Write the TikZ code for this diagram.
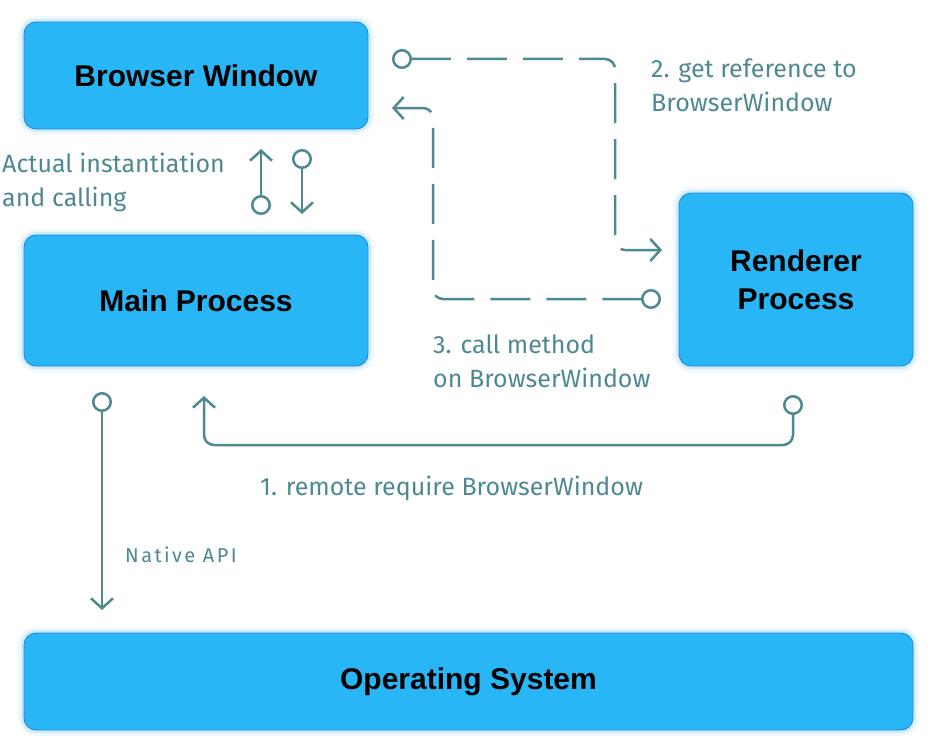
\documentclass[tikz,border=0pt]{standalone}
\usepackage{fontspec}
\setmainfont{Fira Sans}
\newfontfamily\boxfont{Liberation Sans}
\usetikzlibrary{arrows.meta}
\definecolor{boxblue}{RGB}{41,182,246}
\definecolor{boxedge}{RGB}{33,130,222}
\definecolor{boxglow}{RGB}{120,200,250}
\definecolor{linkteal}{RGB}{78,137,146}
\tikzset{
	proc/.style={draw=boxedge, fill=boxblue, line width=0.8pt, rounded corners=12pt,
		inner sep=0pt, align=center,
		font=\boxfont\bfseries\fontsize{30}{38}\selectfont,
		preaction={draw=boxglow, line width=12pt, opacity=0.12},
		preaction={draw=boxglow, line width=6pt, opacity=0.25}},
	link/.style={draw=linkteal, line width=2.5pt, rounded corners=10pt,
		{Circle[open,length=20pt,width=20pt]}-{Straight Barb[length=10pt,width=22pt]}},
	dashlink/.style={dash pattern=on 40pt off 16pt},
	note/.style={text=linkteal, inner sep=0pt, anchor=base west, align=left,
		font=\fontsize{25}{34}\selectfont}
}
\begin{document}
\begin{tikzpicture}[x=1pt, y=-1pt]
	\useasboundingbox (0,0) rectangle (935,752);
	% boxes
	\node[proc, minimum width=344pt, minimum height=107pt] (bw) at (196,75.5) {Browser Window};
	\node[proc, minimum width=344pt, minimum height=131pt] (mp) at (196,300.5) {Main Process};
	\node[proc, minimum width=234pt, minimum height=173pt] (rp) at (796,279.5) {Renderer\\Process};
	\node[proc, minimum width=889pt, minimum height=97pt] (os) at (468.5,681.5) {Operating System};
	% connector ends
	\coordinate (bwout) at (392,59);
	\coordinate (rpin) at (662,250);
	\coordinate (rpout) at (661,299);
	\coordinate (bwin) at (392,108);
	\coordinate (mpup) at (261,215);
	\coordinate (bwdn) at (261,149);
	\coordinate (bwup) at (302,149);
	\coordinate (mpdn) at (302,214);
	\coordinate (mpos) at (102,392);
	\coordinate (osin) at (102,610);
	\coordinate (rpdn) at (793,395);
	\coordinate (low) at (500,445);
	\coordinate (mpin) at (204,396);
	% connectors
	\draw[link, dashlink] (bwout) -| ([xshift=-47pt]rpin) -- (rpin);
	\draw[link, dashlink] (rpout) -| ([xshift=41pt]bwin) -- (bwin);
	\draw[link] (mpup) -- (bwdn);
	\draw[link] (bwup) -- (mpdn);
	\draw[link] (mpos) -- (osin);
	\draw[link] (rpdn) |- (low) -| (mpin);
	% labels
	\node[note] (inst) at (2,206) {Actual instantiation\\and calling};
	\node[note] (getref) at (651,111) {2. get reference to\\BrowserWindow};
	\node[note] (call) at (433,387) {3. call method\\on BrowserWindow};
	\node[note] (req) at (260,495) {1. remote require BrowserWindow};
	\node[note, font=\fontsize{20}{24}\selectfont\addfontfeature{LetterSpace=12}] (api) at (125,562) {Native API};
\end{tikzpicture}
\end{document}
